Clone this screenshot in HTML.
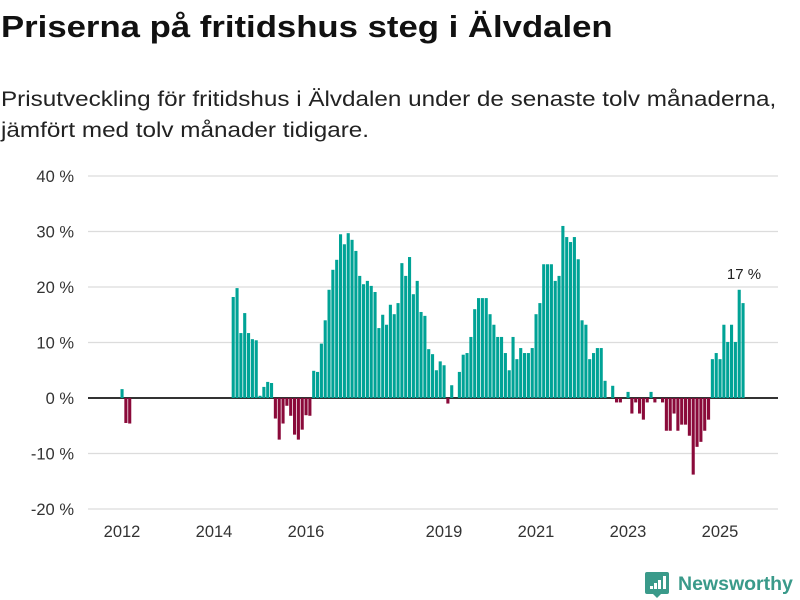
<!DOCTYPE html>
<html><head><meta charset="utf-8">
<style>
body{margin:0;background:#fff;font-family:"Liberation Sans",sans-serif;}
#wrap{position:relative;width:800px;height:600px;overflow:hidden;}
h1{position:absolute;left:1px;top:9px;margin:0;font-size:31px;font-weight:bold;color:#111;transform-origin:0 0;transform:scaleX(1.12);white-space:nowrap;}
.sub{position:absolute;left:1px;top:84px;margin:0;font-size:21px;line-height:31px;color:#222;transform-origin:0 0;transform:scaleX(1.155);white-space:nowrap;}
svg{position:absolute;left:0;top:0;}
</style></head><body>
<div id="wrap">
<h1>Priserna på fritidshus steg i Älvdalen</h1>
<p class="sub">Prisutveckling för fritidshus i Älvdalen under de senaste tolv månaderna,<br>jämfört med tolv månader tidigare.</p>
<svg id="chart" width="800" height="600"></svg>
</div>
<script>
const startYear = 2012;
const values = [1.6,-4.5,-4.6,null,null,null,null,null,null,null,null,null,null,null,null,null,null,null,null,null,null,null,null,null,null,null,null,null,null,
18.2,19.8,11.7,15.3,11.7,10.6,10.4,0.4,2.0,2.9,2.7,-3.7,-7.5,-4.6,-1.4,-3.2,-6.6,-7.5,-5.7,-3.1,-3.2,
4.9,4.7,9.8,14.0,19.5,23.1,24.9,29.5,27.7,29.7,28.5,26.5,22.0,20.5,21.1,20.2,19.1,12.6,15.0,13.2,16.8,15.1,17.1,24.3,22.0,25.4,18.7,21.1,15.5,14.8,8.8,7.9,5.0,6.6,5.9,-1.0,2.3,0,4.7,7.8,8.1,11.0,16.0,18.0,18.0,18.0,15.1,13.2,11.0,11.0,8.1,5.0,11.0,7.0,9.0,8.1,8.1,9.0,15.1,17.1,
24.1,24.1,24.1,21.1,22.0,31.0,29.0,28.1,29.0,25.0,14.0,13.2,7.0,8.1,9.0,9.0,3.1,0,2.2,-0.8,-0.8,0,1.1,-2.8,-0.8,-2.8,-3.9,-0.8,1.1,-0.8,0,-0.8,-5.9,-5.9,-2.8,-5.9,-4.8,-4.8,-6.8,-13.8,-8.8,-7.9,-5.9,-3.9,
7.0,8.1,7.0,13.2,10.1,13.2,10.1,19.5,17.1];
const yTicks = [40,30,20,10,0,-10,-20];
const xTickYears = [2012,2014,2016,2019,2021,2023,2025];
const lastLabel = "17 %";

const NS="http://www.w3.org/2000/svg";
const svg=document.getElementById('chart');
const x0=122, monthW=46/12;
const xs=m=>x0+m*monthW;
const ys=v=>398-v*5.55;
function mk(t,a){const e=document.createElementNS(NS,t);for(const k in a)e.setAttribute(k,a[k]);svg.appendChild(e);return e;}
yTicks.forEach(t=>{
  const g=mk('line',{x1:88,x2:778,y1:ys(t),y2:ys(t),stroke:t===0?'#333':'#dcdcdc','stroke-width':t===0?2:1.2});
  
  
  const l=mk('text',{x:74,y:ys(t)+6,'text-anchor':'end','font-size':16.5,fill:'#333','font-family':'Liberation Sans, sans-serif'});
  l.textContent=t+' %';
  
  
});
xTickYears.forEach(y=>{
  const l=mk('text',{x:xs((y-startYear)*12),y:537,'text-anchor':'middle','font-size':16.5,fill:'#333','font-family':'Liberation Sans, sans-serif'});
  l.textContent=y;
  
  
});
values.forEach((v,m)=>{
  if(v===null||v===0)return;
  const top=Math.min(ys(v),ys(0)), h=Math.abs(ys(v)-ys(0));
  const r=mk('rect',{x:xs(m)-1.5,y:top,width:3.1,height:h,fill:v>0?'#00a396':'#8a0a3a'});
  
  
});
const lm=values.length-1;
const lt=mk('text',{x:xs(lm)+1,y:ys(values[lm])-24,'text-anchor':'middle','font-size':15,fill:'#222','font-family':'Liberation Sans, sans-serif'});
lt.textContent=lastLabel;


// logo
const lg=mk('g',{});


const ic=document.createElementNS(NS,'path');
ic.setAttribute('d','M647 572h20a2 2 0 0 1 2 2v18a2 2 0 0 1-2 2h-6l-4 4l-4-4h-6a2 2 0 0 1-2-2v-18a2 2 0 0 1 2-2z');
ic.setAttribute('fill','#3a9a8a');lg.appendChild(ic);
[[650,586,3,5],[654,583,3,8],[658,580,3,11],[663,576,3,15]].forEach(b=>{const r=document.createElementNS(NS,'rect');r.setAttribute('x',b[0]);r.setAttribute('y',b[1]);r.setAttribute('width',b[2]);r.setAttribute('height',b[3]-2);r.setAttribute('fill','#fff');lg.appendChild(r);});
const lt2=document.createElementNS(NS,'text');
lt2.setAttribute('x',678);lt2.setAttribute('y',590);lt2.setAttribute('font-size',19.5);lt2.setAttribute('font-weight','bold');lt2.setAttribute('fill','#3a9a8a');lt2.setAttribute('font-family','Liberation Sans, sans-serif');
lt2.textContent='Newsworthy';lg.appendChild(lt2);
svg.appendChild(lg);
</script>
</body></html>
